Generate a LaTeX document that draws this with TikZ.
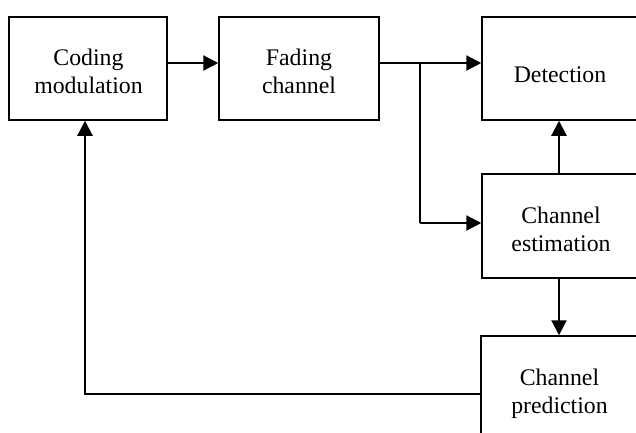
\documentclass[tikz,border=0pt]{standalone}
\usepackage{fontspec}
\setmainfont{Liberation Serif}
\usetikzlibrary{arrows.meta,calc}
\begin{document}
\begin{tikzpicture}[x=1pt,y=-1pt,
  box/.style={draw,line width=1.5pt,inner sep=0pt,minimum height=103pt},
  lbl/.style={align=center,inner sep=0pt,font=\fontsize{23.8pt}{28pt}\selectfont},
  arr/.style={line width=2.2pt,-{Triangle[length=15pt,width=15pt]}},
  ln/.style={line width=2.2pt}]
\useasboundingbox (0,0) rectangle (636,432);
\clip (0,0) rectangle (636,432);
% boxes
\node[box,minimum width=158pt] (A) at (88,68.5) {};
\node[box,minimum width=160pt] (B) at (299,68.5) {};
\node[box,minimum width=156pt] (D) at (560,68.5) {};
\node[box,minimum width=156pt,minimum height=104pt] (E) at (560,226) {};
\node[box,minimum width=156pt] (P) at (559,387.5) {};
% labels
\node[lbl] (tA) at (88.5,71.7) {Coding\\modulation};
\node[lbl] (tB) at (299,71.7) {Fading\\channel};
\node[lbl] (tD) at (560,75.2) {Detection};
\node[lbl] (tE) at (561,229.4) {Channel\\estimation};
\node[lbl] (tP) at (559.5,393.3) {Channel\\prediction};
% helper coordinates
\coordinate (r1) at (0,63);
\coordinate (j) at (420,63);
\coordinate (jr) at (420,223);
\coordinate (cx) at (559,0);
\coordinate (f) at (85,394);
% connectors
\draw[arr] (A.east |- r1) -- (B.west |- r1);
\draw[arr] (B.east |- r1) -- (D.west |- r1);
\draw[ln] (j) -- (jr);
\draw[arr] (jr) -- (E.west |- jr);
\draw[arr] (E.north -| cx) -- (D.south -| cx);
\draw[arr] (E.south -| cx) -- (P.north -| cx);
\draw[arr] (P.west |- f) -- (f) -- (A.south -| f);
\end{tikzpicture}
\end{document}
